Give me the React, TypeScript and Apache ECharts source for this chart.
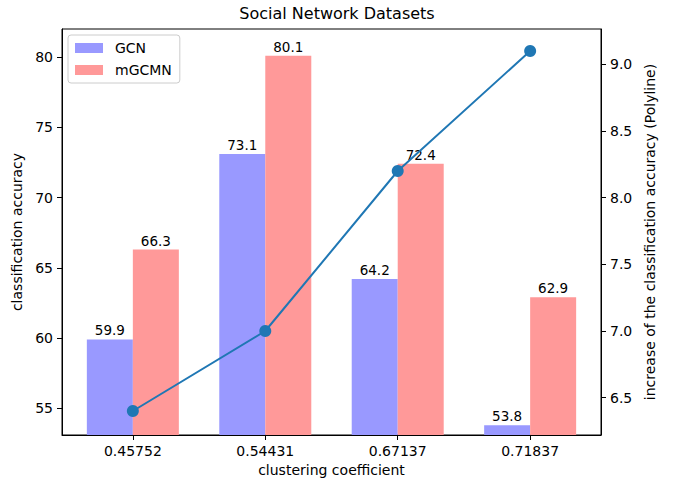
import React, { useEffect, useRef } from "react";
import * as echarts from "echarts";

const categories = ["0.45752", "0.54431", "0.67137", "0.71837"];
const gcnValues = [59.9, 73.1, 64.2, 53.8];
const mgcmnValues = [66.3, 80.1, 72.4, 62.9];
const increaseValues = [6.4, 7.0, 8.2, 9.1];
const leftTicks = [55, 60, 65, 70, 75, 80];
const rightTicks = [6.5, 7.0, 7.5, 8.0, 8.5, 9.0];
const xPositions = [0, 1, 2, 3];

const FONT = "DejaVu Sans";

export default function App() {
  const ref = useRef<HTMLDivElement>(null);
  useEffect(() => {
    if (!ref.current) return;
    const chart = echarts.init(ref.current, null, { renderer: "svg" });
    const labelStyle = {
      show: true,
      position: "top",
      distance: 2,
      color: "#000",
      fontFamily: FONT,
      fontSize: 13.5,
      formatter: (p: any) => p.value[1].toFixed(1),
    };
    chart.setOption({
      animation: false,
      backgroundColor: "#fff",
      title: {
        text: "Social Network Datasets",
        left: 332,
        top: 0,
        textAlign: "center",
        textStyle: { fontFamily: FONT, fontSize: 16, fontWeight: "normal", color: "#000" },
      },
      legend: {
        data: ["GCN", "mGCMN"],
        orient: "vertical",
        left: 68,
        top: 35,
        padding: [6, 8, 6, 7],
        itemGap: 8,
        itemWidth: 28,
        itemHeight: 10,
        icon: "rect",
        backgroundColor: "rgba(255,255,255,0.8)",
        borderColor: "#ccc",
        borderWidth: 1,
        borderRadius: 3,
        textStyle: { fontFamily: FONT, fontSize: 14, color: "#000", padding: [0, 0, 0, 7] },
      },
      grid: {
        left: 62,
        right: 72,
        top: 29,
        bottom: 48,
        show: true,
        borderColor: "#000",
        borderWidth: 1,
        backgroundColor: "transparent",
      },
      xAxis: {
        type: "value",
        min: -0.535,
        max: 3.535,
        name: "clustering coefficient",
        nameLocation: "middle",
        nameGap: 27,
        nameTextStyle: { fontFamily: FONT, fontSize: 14, color: "#000" },
        splitLine: { show: false },
        axisLine: { show: true, onZero: false, lineStyle: { color: "#000", width: 1 } },
        axisTick: { show: true, length: 5, lineStyle: { color: "#000" }, customValues: xPositions },
        axisLabel: {
          customValues: xPositions,
          margin: 9,
          fontFamily: FONT,
          fontSize: 14,
          color: "#000",
          formatter: (v: number) => categories[Math.round(v)] ?? "",
        },
      },
      yAxis: [
        {
          type: "value",
          min: 53.1,
          max: 82,
          name: "classification accuracy",
          nameLocation: "middle",
          nameGap: 37,
          nameTextStyle: { fontFamily: FONT, fontSize: 14, color: "#000" },
          splitLine: { show: false },
          axisLine: { show: true, onZero: false, lineStyle: { color: "#000", width: 1 } },
          axisTick: { show: true, length: 5, lineStyle: { color: "#000" }, customValues: leftTicks },
          axisLabel: {
            customValues: leftTicks,
            margin: 9,
            fontFamily: FONT,
            fontSize: 14,
            color: "#000",
          },
        },
        {
          type: "value",
          position: "right",
          min: 6.22,
          max: 9.265,
          name: "increase of the classification accuracy (Polyline)",
          nameLocation: "middle",
          nameGap: 30,
          nameRotate: 90,
          nameTextStyle: { fontFamily: FONT, fontSize: 14, color: "#000" },
          splitLine: { show: false },
          axisLine: { show: true, onZero: false, lineStyle: { color: "#000", width: 1 } },
          axisTick: { show: true, length: 5, lineStyle: { color: "#000" }, customValues: rightTicks },
          axisLabel: {
            customValues: rightTicks,
            margin: 9,
            fontFamily: FONT,
            fontSize: 14,
            color: "#000",
            formatter: (v: number) => v.toFixed(1),
          },
        },
      ],
      series: [
        {
          name: "GCN",
          type: "bar",
          xAxisIndex: 0,
          yAxisIndex: 0,
          barWidth: 46,
          barGap: "0%",
          itemStyle: { color: "#9999ff" },
          label: labelStyle,
          data: xPositions.map((x, i) => [x, gcnValues[i]]),
        },
        {
          name: "mGCMN",
          type: "bar",
          xAxisIndex: 0,
          yAxisIndex: 0,
          barWidth: 46,
          barGap: "0%",
          itemStyle: { color: "#ff9999" },
          label: labelStyle,
          data: xPositions.map((x, i) => [x, mgcmnValues[i]]),
        },
        {
          name: "increase",
          type: "line",
          xAxisIndex: 0,
          yAxisIndex: 1,
          symbol: "circle",
          symbolSize: 12,
          z: 5,
          lineStyle: { color: "#1f77b4", width: 2 },
          itemStyle: { color: "#1f77b4" },
          data: xPositions.map((x, i) => [x, increaseValues[i]]),
        },
      ],
    });
    return () => chart.dispose();
  }, []);
  return (
    <div
      ref={ref}
      style={{ position: "absolute", left: 0, top: 0, width: 673, height: 483 }}
    />
  );
}
